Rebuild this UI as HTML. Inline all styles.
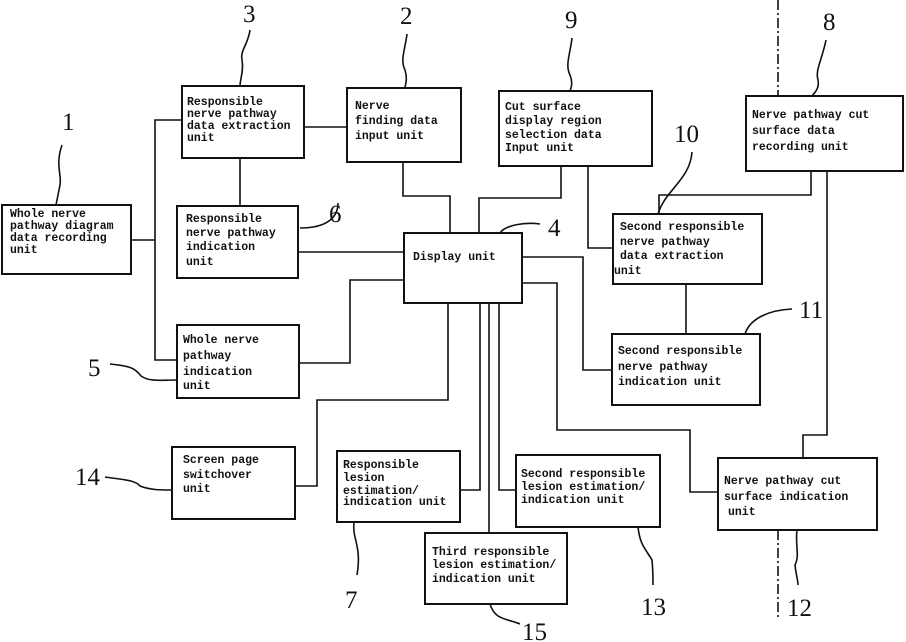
<!DOCTYPE html>
<html><head><style>
body{margin:0;background:#fff}
svg{display:block}
.t{font-family:"Liberation Mono",monospace;font-size:11.5px;font-weight:bold;fill:#111}
.n{font-family:"Liberation Serif",serif;font-size:25px;fill:#111}
rect{fill:#fff;stroke:#111;stroke-width:2}
path,line{fill:none;stroke:#111;stroke-width:1.6}
</style></head><body>
<svg width="906" height="642" viewBox="0 0 906 642">
<!-- connectors -->
<path d="M131 240H155V120H182M155 240V360H177"/>
<path d="M304 127H347"/>
<path d="M240 158V206"/>
<path d="M298 252H404"/>
<path d="M403 162V196H450V233"/>
<path d="M561 166V198H479V233"/>
<path d="M588 166V248H613"/>
<path d="M522 257H583V370H612"/>
<path d="M522 283H557V430H690V492H718"/>
<path d="M299 363H350V280H404"/>
<path d="M448 303V400H317V486H295"/>
<path d="M480 303V490H460"/>
<path d="M489 303V533"/>
<path d="M499 303V490H516"/>
<path d="M811 171V195H659V214"/>
<path d="M827 171V435H803V458"/>
<path d="M686 284V334"/>
<path d="M778 0V96M778 458V620" stroke-dasharray="10 3 2 3" stroke-width="1"/>
<!-- leaders -->
<path d="M62 145C55 165 62 175 60 185C58 195 57 200 56 205"/>
<path d="M250 30C248 45 240 50 242 60C244 70 240 80 240 86"/>
<path d="M407 34C405 50 400 60 405 70C408 80 405 85 405 88"/>
<path d="M572 38C570 55 565 65 570 75C574 85 570 90 570 91"/>
<path d="M826 40C822 60 815 70 818 80C820 90 812 95 812 96"/>
<path d="M692 152C690 180 665 190 658 214"/>
<path d="M338 203C338 215 330 228 300 228"/>
<path d="M540 224C525 222 505 225 500 233"/>
<path d="M792 309C770 310 750 318 745 334"/>
<path d="M110 364C130 366 135 368 141 376C150 382 160 380 177 380"/>
<path d="M105 477C125 480 135 480 140 486C150 490 160 490 172 490"/>
<path d="M354 522C352 540 362 545 357 575"/>
<path d="M490 604C495 620 505 618 520 624"/>
<path d="M638 527C640 545 645 548 652 560C653 570 653 580 653 585"/>
<path d="M797 530C795 545 800 555 795 565C796 575 798 580 798 585"/>
<!-- boxes -->
<rect x="2" y="205" width="129" height="69"/>
<rect x="182" y="86" width="122" height="72"/>
<rect x="347" y="88" width="114" height="74"/>
<rect x="499" y="91" width="153" height="75"/>
<rect x="746" y="96" width="157" height="75"/>
<rect x="177" y="206" width="121" height="72"/>
<rect x="404" y="233" width="118" height="70"/>
<rect x="613" y="214" width="149" height="70"/>
<rect x="612" y="334" width="148" height="71"/>
<rect x="177" y="325" width="122" height="73"/>
<rect x="172" y="447" width="123" height="72"/>
<rect x="337" y="451" width="123" height="71"/>
<rect x="516" y="455" width="144" height="72"/>
<rect x="425" y="533" width="142" height="71"/>
<rect x="718" y="458" width="159" height="72"/>
<!-- texts -->
<text class="t"><tspan x="10" y="217">Whole nerve</tspan><tspan x="10" y="229">pathway diagram</tspan><tspan x="10" y="241">data recording</tspan><tspan x="10" y="253">unit</tspan></text>
<text class="t"><tspan x="187" y="105">Responsible</tspan><tspan x="187" y="117">nerve pathway</tspan><tspan x="187" y="129">data extraction</tspan><tspan x="187" y="141">unit</tspan></text>
<text class="t"><tspan x="355" y="109">Nerve</tspan><tspan x="355" y="124">finding data</tspan><tspan x="355" y="139">input unit</tspan></text>
<text class="t"><tspan x="505" y="110">Cut surface</tspan><tspan x="505" y="124">display region</tspan><tspan x="505" y="138">selection data</tspan><tspan x="505" y="151">Input unit</tspan></text>
<text class="t"><tspan x="752" y="118">Nerve pathway cut</tspan><tspan x="752" y="134">surface data</tspan><tspan x="752" y="150">recording unit</tspan></text>
<text class="t"><tspan x="186" y="222">Responsible</tspan><tspan x="186" y="236">nerve pathway</tspan><tspan x="186" y="250">indication</tspan><tspan x="186" y="265">unit</tspan></text>
<text class="t" x="413" y="260">Display unit</text>
<text class="t"><tspan x="620" y="230">Second responsible</tspan><tspan x="620" y="245">nerve pathway</tspan><tspan x="620" y="259">data extraction</tspan><tspan x="614" y="274">unit</tspan></text>
<text class="t"><tspan x="618" y="354">Second responsible</tspan><tspan x="618" y="370">nerve pathway</tspan><tspan x="618" y="385">indication unit</tspan></text>
<text class="t"><tspan x="183" y="343">Whole nerve</tspan><tspan x="183" y="359">pathway</tspan><tspan x="183" y="375">indication</tspan><tspan x="183" y="389">unit</tspan></text>
<text class="t"><tspan x="183" y="463">Screen page</tspan><tspan x="183" y="478">switchover</tspan><tspan x="183" y="492">unit</tspan></text>
<text class="t"><tspan x="343" y="468">Responsible</tspan><tspan x="343" y="481">lesion</tspan><tspan x="343" y="494">estimation/</tspan><tspan x="343" y="505">indication unit</tspan></text>
<text class="t"><tspan x="521" y="477">Second responsible</tspan><tspan x="521" y="490">lesion estimation/</tspan><tspan x="521" y="503">indication unit</tspan></text>
<text class="t"><tspan x="432" y="555">Third responsible</tspan><tspan x="432" y="568">lesion estimation/</tspan><tspan x="432" y="582">indication unit</tspan></text>
<text class="t"><tspan x="724" y="484">Nerve pathway cut</tspan><tspan x="724" y="500">surface indication</tspan><tspan x="728" y="515">unit</tspan></text>
<!-- numbers -->
<text class="n" x="62" y="130">1</text>
<text class="n" x="243" y="22">3</text>
<text class="n" x="400" y="24">2</text>
<text class="n" x="565" y="28">9</text>
<text class="n" x="823" y="30">8</text>
<text class="n" x="674" y="142">10</text>
<text class="n" x="329" y="222">6</text>
<text class="n" x="548" y="236">4</text>
<text class="n" x="799" y="318">11</text>
<text class="n" x="88" y="376">5</text>
<text class="n" x="75" y="485">14</text>
<text class="n" x="345" y="608">7</text>
<text class="n" x="522" y="640">15</text>
<text class="n" x="641" y="615">13</text>
<text class="n" x="787" y="616">12</text>
</svg>
</body></html>
